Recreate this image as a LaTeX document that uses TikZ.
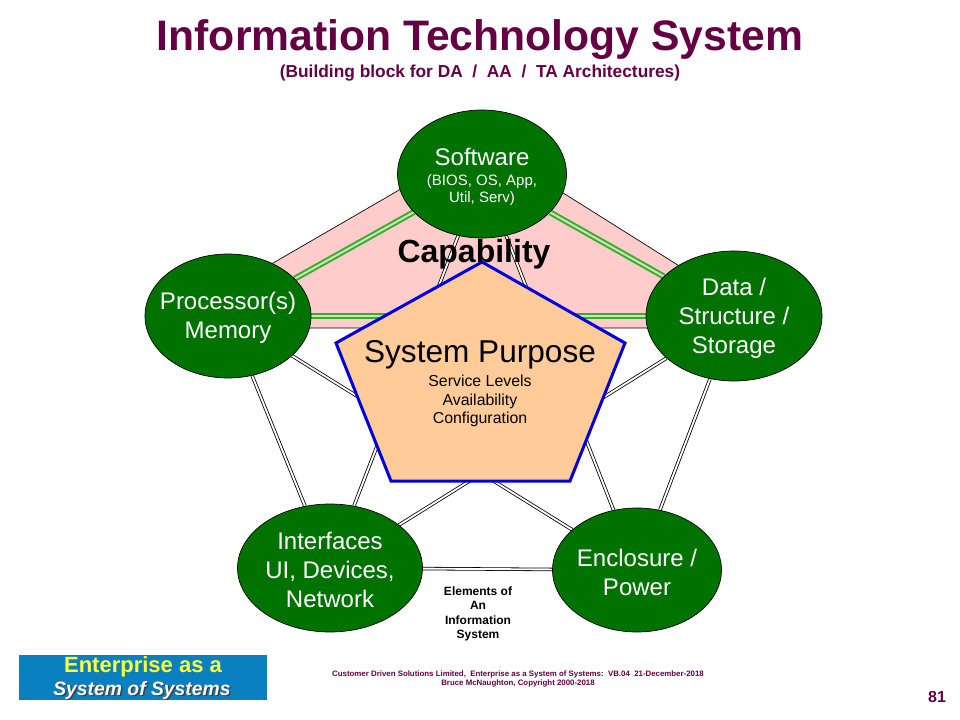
\documentclass[tikz,border=0pt]{standalone}
\usepackage{fontspec}
\setmainfont{Liberation Sans}
\usepackage{tikz}
\usetikzlibrary{shapes.geometric,backgrounds,calc}
\definecolor{maroon}{RGB}{102,0,68}
\definecolor{elemgreen}{RGB}{0,114,0}
\definecolor{capink}{RGB}{255,204,204}
\definecolor{peach}{RGB}{255,204,153}
\definecolor{purpblue}{RGB}{0,0,220}
\definecolor{linkgreen}{RGB}{60,170,50}
\definecolor{linklight}{RGB}{195,235,175}
\definecolor{logoblue}{RGB}{10,128,192}
\definecolor{logoyellow}{RGB}{255,255,60}

\begin{document}
\begin{tikzpicture}[x=0.75pt, y=-0.75pt,
    elem/.style={ellipse, draw=black, line width=0.5pt, fill=elemgreen, inner sep=0pt},
    elemtext/.style={text=white, align=center, yshift=-1.5pt, font=\fontsize{18}{21.75}\selectfont},
    blacklink/.style={draw=black, double=white, line width=0.6pt, double distance=1.4pt},
    greenlink/.style={draw=linkgreen, double=linklight, line width=1.5pt, double distance=1.5pt}]
        \useasboundingbox (0,0) rectangle (960,720);
        % elements
        \node[elem, minimum width=126.75pt, minimum height=96pt] (soft) at (482,174) {};
        \node[elem, minimum width=124.5pt, minimum height=93pt] (proc) at (228,316) {};
        \node[elem, minimum width=132pt, minimum height=97.5pt] (data) at (734,316) {};
        \node[elem, minimum width=138.75pt, minimum height=96pt] (intf) at (330,568) {};
        \node[elem, minimum width=126.75pt, minimum height=93pt] (encl) at (637,570) {};

        \begin{scope}[on background layer]
        % capability area
        \fill[capink, draw=black, line width=0.5pt] (161,328) -- (482,142) -- (778,328) -- cycle;
        % top links
        \draw[greenlink] (proc) -- (soft);
        \draw[greenlink] (soft) -- (data);
        \draw[greenlink] (proc) -- (data);
        % other links
        \draw[blacklink] (proc) -- (intf);
        \draw[blacklink] (data) -- (encl);
        \draw[blacklink] (intf) -- (encl);
        \draw[blacklink] (soft) -- (intf);
        \draw[blacklink] (soft) -- (encl);
        \draw[blacklink] (proc) -- (encl);
        \draw[blacklink] (data) -- (intf);
        % purpose
        \draw[fill=peach, draw=purpblue, line width=2.25pt]
            (482,262) -- (625,343) -- (570,481) -- (391,481) -- (336,343) -- cycle;
        \end{scope}

        % Labels
        \node[font=\bfseries\fontsize{24}{28}\selectfont] (capa) at (474,254) {Capability};
        \node[font=\fontsize{23.7}{28}\selectfont] (purp) at (480,355) {System Purpose};
        \node[align=center, font=\fontsize{11.9}{13.9}\selectfont] (purp-t) at (480,401)
            {Service Levels\\Availability\\Configuration};
        \node[elemtext, yshift=1.5pt] (soft-t) at (482,157) {Software};
        \node[elemtext, yshift=1.5pt, font=\fontsize{11.25}{12.75}\selectfont] (soft-s) at (482,190) {(BIOS, OS, App,\\Util, Serv)};
        \node[elemtext] (proc-t) at (proc) {Processor(s)\\Memory};
        \node[elemtext] (data-t) at (data) {Data /\\Structure /\\Storage};
        \node[elemtext] (intf-t) at (intf) {Interfaces\\UI, Devices,\\Network};
        \node[elemtext] (encl-t) at (encl) {Enclosure /\\Power};
        \node[align=center, font=\bfseries\fontsize{9}{10.7}\selectfont] (elems) at (478,614)
            {Elements of\\An\\Information\\System};

        % Title
        \node[text=maroon, font=\bfseries\fontsize{32}{36}\selectfont] (title) at (480,40) {Information Technology System};
        \node[text=maroon, font=\bfseries\fontsize{13}{16}\selectfont] (subtitle) at (480,73)
            {(Building block for DA\ \ /\ \ AA\ \ /\ \ TA Architectures)};

        % Footer
        \node[fill=logoblue, minimum width=186pt, minimum height=33.75pt, inner sep=0pt] (logo) at (143,677.5) {};
        \node[text=logoyellow, font=\bfseries\fontsize{16.5}{19}\selectfont] (logo-top) at (143,667) {Enterprise as a};
        \node[text=black!75, font=\bfseries\itshape\fontsize{14.5}{17}\selectfont] (logo-sh) at (143.5,691.5) {System of Systems};
        \node[text=white, font=\bfseries\itshape\fontsize{14.5}{17}\selectfont] (logo-bot) at (142,690) {System of Systems};
        \node[text=maroon, align=center, font=\bfseries\fontsize{5.9}{6.8}\selectfont] (foot) at (518,679)
            {Customer Driven Solutions Limited,\ \ Enterprise as a System of Systems:\ \ VB.04\ \ 21-December-2018\\
             Bruce McNaughton, Copyright 2000-2018};
        \node[text=maroon, font=\bfseries\fontsize{12}{14}\selectfont] (pgno) at (937,697) {81};
\end{tikzpicture}
\end{document}
